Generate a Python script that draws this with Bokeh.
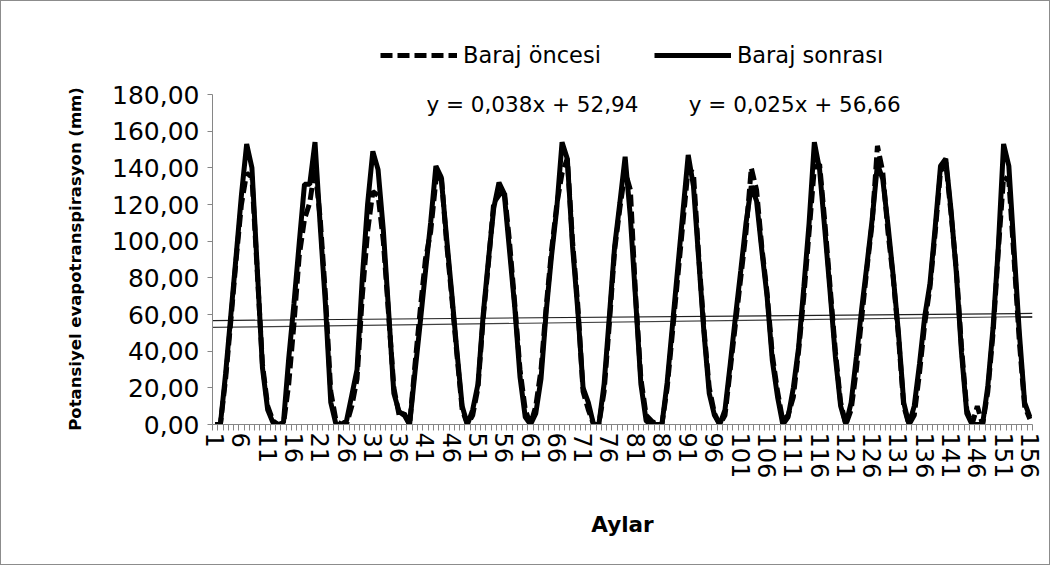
from bokeh.plotting import figure
from bokeh.models import Legend, LegendItem, FixedTicker, Label, Range1d
from bokeh.embed import file_html
from bokeh.resources import INLINE

months = list(range(1, 157))

baraj_oncesi = [
    0, 0, 25, 57, 90, 120, 137, 135, 84, 33, 10, 2,
    0, 0, 22, 55, 92, 112, 121, 140, 112, 70, 18, 2,
    0, 0, 10, 25, 70, 105, 127, 125, 100, 60, 20, 5,
    6, 0, 32, 62, 90, 105, 133, 137, 100, 70, 38, 8,
    0, 5, 20, 58, 88, 121, 125, 128, 100, 66, 30, 8,
    0, 10, 30, 65, 95, 120, 137, 145, 100, 65, 18, 8,
    0, 0, 18, 55, 95, 118, 138, 128, 70, 25, 5, 2,
    0, 0, 20, 50, 80, 110, 140, 137, 92, 52, 20, 6,
    0, 5, 30, 55, 80, 105, 140, 128, 97, 72, 38, 18,
    2, 5, 15, 40, 70, 105, 140, 142, 110, 75, 40, 12,
    0, 8, 30, 58, 85, 110, 152, 138, 105, 80, 48, 10,
    0, 5, 28, 55, 75, 105, 138, 143, 115, 85, 42, 8,
    0, 10, 0, 18, 50, 95, 135, 133, 90, 45, 10, 3,
]

baraj_sonrasi = [
    0, 0, 28, 60, 92, 125, 153, 140, 86, 31, 8, 1,
    0, 1, 36, 66, 99, 131, 131, 154, 108, 65, 12, 0,
    0, 2, 16, 30, 80, 120, 149, 139, 106, 62, 17, 7,
    5, 0, 28, 55, 83, 110, 141, 135, 103, 72, 40, 10,
    0, 8, 22, 60, 90, 118, 132, 126, 95, 64, 26, 4,
    0, 6, 25, 62, 92, 118, 154, 145, 97, 62, 20, 12,
    0, 0, 22, 59, 97, 121, 146, 113, 68, 22, 2, 0,
    0, 0, 23, 54, 85, 116, 147, 130, 90, 50, 17, 5,
    0, 8, 33, 59, 84, 110, 130, 122, 95, 70, 35, 15,
    0, 4, 20, 42, 75, 110, 154, 139, 106, 72, 37, 10,
    0, 12, 37, 63, 87, 112, 142, 134, 109, 81, 50, 12,
    0, 10, 33, 59, 77, 108, 141, 145, 117, 83, 39, 6,
    0, 0, 0, 21, 53, 97, 153, 141, 95, 50, 12, 4,
]

trend_oncesi = (0.038, 52.94)
trend_sonrasi = (0.025, 56.66)
eq_oncesi = "y = 0,038x + 52,94"
eq_sonrasi = "y = 0,025x + 56,66"

y_ticks = [0, 20, 40, 60, 80, 100, 120, 140, 160, 180]
x_label_ticks = months[::5]

FONT = "DejaVu Sans"

# frame spans page y 23..423; values 0..180 occupy the lower 330 px
Y_AXIS_MAX = 180
Y_VIEW_MAX = 400 * 180 / 330

p = figure(width=1050, height=565, output_backend="svg", toolbar_location=None,
           x_range=Range1d(0.5, 156.5), y_range=Range1d(0, Y_VIEW_MAX),
           min_border_left=211, min_border_right=19, min_border_top=23, min_border_bottom=142)
p.styles = {"border": "1px solid #8c8c8c"}
p.xgrid.visible = False
p.ygrid.visible = False
p.outline_line_color = None

# trend lines
tx = [months[0] - 0.5, months[-1] + 0.5]
p.line(tx, [trend_oncesi[0] * x + trend_oncesi[1] for x in tx], line_color="#404040", line_width=1.2)
p.line(tx, [trend_sonrasi[0] * x + trend_sonrasi[1] for x in tx], line_color="#202020", line_width=1.2)

r_once = p.line(months, baraj_oncesi, line_color="black", line_width=5, line_dash="12 5")
r_sonra = p.line(months, baraj_sonrasi, line_color="black", line_width=5)

legend = Legend(items=[LegendItem(label="Baraj öncesi", renderers=[r_once]),
                       LegendItem(label="Baraj sonrası", renderers=[r_sonra])],
                orientation="horizontal", location=(168, 356), glyph_width=77, glyph_height=20,
                label_standoff=6, spacing=53, border_line_color=None, background_fill_alpha=0,
                label_text_font=FONT, label_text_font_size="22.5px", label_text_color="black",
                padding=2, margin=0)
p.add_layout(legend, "center")

p.add_layout(Label(x=41.2, y=174.6, text=eq_oncesi, text_font=FONT, text_font_size="21.5px",
                   text_baseline="middle", text_align="left", text_color="black"))
p.add_layout(Label(x=91.1, y=174.6, text=eq_sonrasi, text_font=FONT, text_font_size="21.5px",
                   text_baseline="middle", text_align="left", text_color="black"))

# y axis (label padded with no-break spaces so it centres on the 0..180 span)
p.yaxis.bounds = (0, Y_AXIS_MAX)
p.yaxis.ticker = FixedTicker(ticks=y_ticks)
p.yaxis.major_label_overrides = {t: f"{t:.2f}".replace(".", ",") for t in y_ticks}
p.yaxis.axis_label = "Potansiyel evapotranspirasyon (mm)" + "\u00a0" * 12
p.yaxis.axis_label_text_font = FONT
p.yaxis.axis_label_text_font_style = "bold"
p.yaxis.axis_label_text_font_size = "16.5px"
p.yaxis.axis_label_text_color = "black"
p.yaxis.axis_label_standoff = 24
p.yaxis.major_label_text_font = FONT
p.yaxis.major_label_text_font_size = "25px"
p.yaxis.major_label_text_color = "black"
p.yaxis.major_tick_out = 5
p.yaxis.major_tick_in = 0
p.yaxis.minor_tick_line_color = None
p.yaxis.axis_line_color = "#868686"
p.yaxis.major_tick_line_color = "#868686"
p.yaxis.major_label_standoff = 8

# x axis
p.xaxis.ticker = FixedTicker(ticks=x_label_ticks, minor_ticks=[m - 0.5 for m in months] + [months[-1] + 0.5])
p.xaxis.major_label_overrides = {m: str(m) for m in x_label_ticks}
p.xaxis.major_label_orientation = "vertical"
p.xaxis.major_label_text_font = FONT
p.xaxis.major_label_text_font_size = "24px"
p.xaxis.major_label_text_color = "black"
p.xaxis.major_tick_line_color = None
p.xaxis.major_tick_out = 6
p.xaxis.major_tick_in = 0
p.xaxis.minor_tick_out = 6
p.xaxis.minor_tick_in = 0
p.xaxis.minor_tick_line_color = "#868686"
p.xaxis.axis_line_color = "#868686"
p.xaxis.major_label_standoff = 2
p.xaxis.axis_label = "Aylar"
p.xaxis.axis_label_text_font = FONT
p.xaxis.axis_label_text_font_style = "bold"
p.xaxis.axis_label_text_font_size = "21.5px"
p.xaxis.axis_label_text_color = "black"
p.xaxis.axis_label_standoff = 31

open("out.html", "w").write(file_html(p, INLINE))
